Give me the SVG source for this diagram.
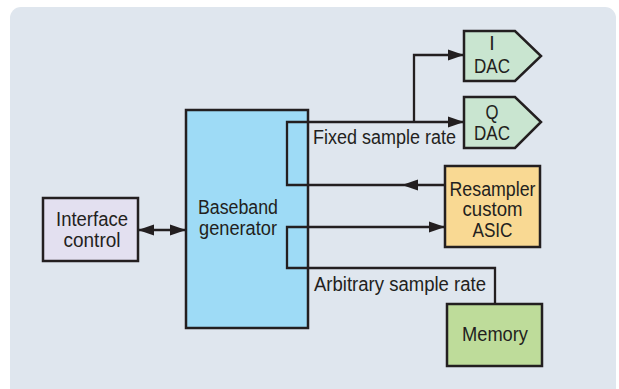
<svg xmlns="http://www.w3.org/2000/svg" width="619" height="389" viewBox="0 0 619 389">
<style>
.box{stroke:#231f20;stroke-width:2.5}
.t{font-family:"Liberation Sans",Arial,sans-serif;font-size:19.5px;fill:#231f20}
.c{text-anchor:middle}
.ln{fill:none;stroke:#231f20;stroke-width:2.3}
</style>
<defs>
<marker id="ah" markerUnits="userSpaceOnUse" markerWidth="18" markerHeight="12" refX="16" refY="6" orient="auto-start-reverse" viewBox="0 0 18 12">
<path d="M0,0.5 L16,6 L0,11.5 Z" fill="#231f20"/>
</marker>
</defs>
<rect x="0" y="0" width="619" height="389" fill="#ffffff"/>
<rect id="panel" x="10" y="7" width="606" height="395" rx="11" fill="#dfe6ee"/>
<g id="interface">
<rect class="box" x="43" y="198" width="95" height="63" fill="#e3e0f0"/>
<text class="t c" x="92" y="226" textLength="72" lengthAdjust="spacingAndGlyphs">Interface</text>
<text class="t c" x="92" y="247" textLength="57" lengthAdjust="spacingAndGlyphs">control</text>
</g>
<g id="baseband">
<rect class="box" x="186" y="110" width="122" height="218" fill="#9edbf6"/>
<text class="t c" x="238" y="214" textLength="80" lengthAdjust="spacingAndGlyphs">Baseband</text>
<text class="t c" x="238" y="235" textLength="78" lengthAdjust="spacingAndGlyphs">generator</text>
</g>
<g id="idac">
<polygon class="box" points="464,31 515,31 541,56 515,81 464,81" fill="#c9e5d0"/>
<text class="t c" x="492" y="50">I</text>
<text class="t c" x="492" y="73" textLength="36" lengthAdjust="spacingAndGlyphs">DAC</text>
</g>
<g id="qdac">
<polygon class="box" points="464,97 515,97 541,122 515,148 464,148" fill="#c9e5d0"/>
<text class="t c" x="492" y="119" textLength="13" lengthAdjust="spacingAndGlyphs">Q</text>
<text class="t c" x="492" y="140" textLength="36" lengthAdjust="spacingAndGlyphs">DAC</text>
</g>
<g id="resampler">
<rect class="box" x="445" y="166" width="95" height="81" fill="#f9d993"/>
<text class="t c" x="492.5" y="196" textLength="86" lengthAdjust="spacingAndGlyphs">Resampler</text>
<text class="t c" x="492.5" y="216" textLength="60" lengthAdjust="spacingAndGlyphs">custom</text>
<text class="t c" x="492.5" y="237" textLength="40" lengthAdjust="spacingAndGlyphs">ASIC</text>
</g>
<g id="memory">
<rect class="box" x="447" y="304" width="95" height="62" fill="#bedc9a"/>
<text class="t c" x="495" y="341" textLength="66" lengthAdjust="spacingAndGlyphs">Memory</text>
</g>
<g id="connectors">
<line class="ln" x1="138" y1="230" x2="186" y2="230" marker-start="url(#ah)" marker-end="url(#ah)"/>
<path class="ln" d="M445,185 L402,185" marker-end="url(#ah)"/>
<path class="ln" d="M402,185 L287,185 L287,122 L464,122" marker-end="url(#ah)"/>
<path class="ln" d="M414,122 L414,55 L464,55" marker-end="url(#ah)"/>
<path class="ln" d="M495,304 L495,268 L287,268 L287,227 L445,227" marker-end="url(#ah)"/>
<text class="t" x="313" y="144" textLength="143" lengthAdjust="spacingAndGlyphs">Fixed sample rate</text>
<text class="t" x="314" y="291" textLength="172" lengthAdjust="spacingAndGlyphs">Arbitrary sample rate</text>
</g>
</svg>
